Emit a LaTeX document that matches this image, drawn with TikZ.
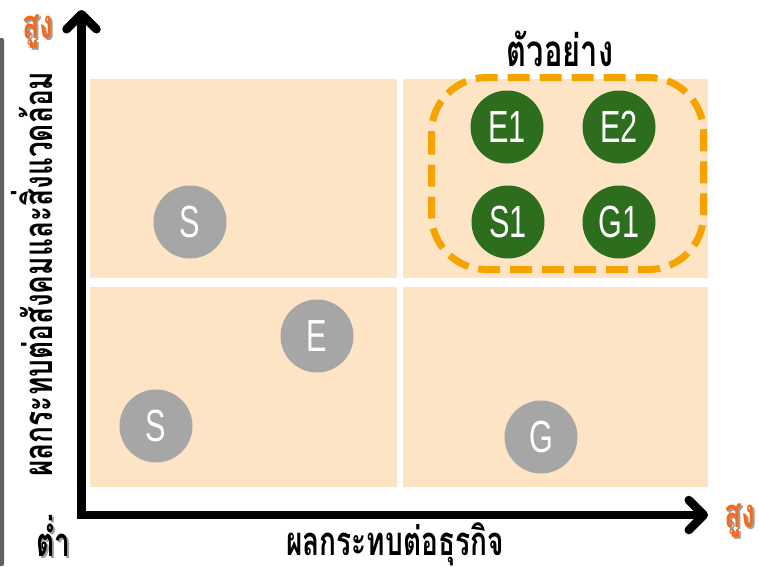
\documentclass[tikz,border=0pt]{standalone}
\usepackage{fontspec}
\setmainfont{Liberation Sans}
\newfontfamily\thai[Script=Thai,FakeStretch=0.7]{Loma}
\newfontfamily\lat[FakeStretch=0.68]{Liberation Sans}
\usetikzlibrary{arrows.meta}
\definecolor{beige}{HTML}{FCE4C4}
\definecolor{dgreen}{HTML}{2D6E1E}
\definecolor{cgray}{HTML}{A6A6A6}
\definecolor{dashor}{HTML}{F5A300}
\definecolor{hiorange}{HTML}{F26B1D}
\definecolor{shadowg}{HTML}{A0A0A0}
\definecolor{barg}{HTML}{606060}
\tikzset{
  quad/.style={fill=beige},
  bubble/.style={circle, minimum size=73pt, inner sep=0pt, text=white,
    font=\lat\fontsize{45}{45}\selectfont},
  greenc/.style={bubble, fill=dgreen},
  grayc/.style={bubble, fill=cgray},
  thaitext/.style={font=\thai\bfseries\fontsize{40}{40}\selectfont, inner sep=0pt, anchor=base},
  axis/.style={line width=8.5pt, line join=miter,
    {Straight Barb[round,length=15pt,width=30pt]}-{Straight Barb[round,length=15pt,width=30pt]}},
  groupbox/.style={draw=dashor, line width=7pt, dash pattern=on 22pt off 10pt, rounded corners=55pt}
}
\begin{document}
\begin{tikzpicture}[x=1pt,y=-1pt]
\useasboundingbox (0,0) rectangle (759,566);
% left bar
\fill[barg, rounded corners=2pt] (-4,566) -- (-4,38) -- (4,38) -- (4,566) -- cycle;
% quadrants
\fill[quad] (90,79) rectangle (397,278);
\fill[quad] (403,79) rectangle (708,278);
\fill[quad] (90,287) rectangle (397,487);
\fill[quad] (403,287) rectangle (708,487);
% group box
\draw[groupbox] (431.5,77.5) rectangle (703.5,269.5);
\node[thaitext, font=\thai\bfseries\fontsize{44}{44}\selectfont] (grp) at (560,66) {ตัวอย่าง};
% green circles
\node[greenc] (e1) at (507,127) {E1};
\node[greenc] (e2) at (619,127) {E2};
\node[greenc] (s1) at (508,222) {S1};
\node[greenc] (g1) at (619,222) {G1};
% gray circles
\node[grayc] (sa) at (190,222) {S};
\node[grayc] (e) at (317,336) {E};
\node[grayc] (sb) at (156,426) {S};
\node[grayc] (g) at (541,437) {G};
% axes
\coordinate (o) at (81.5,515);
\coordinate (ytip) at (81.5,10);
\coordinate (xtip) at (708,515);
\draw[axis] (ytip) -- (o) -- (xtip);
% axis labels
\node[thaitext, rotate=90] (ylab) at (52,274) {ผลกระทบต่อสังคมและสิ่งแวดล้อม};
\node[thaitext] (xlab) at (395,555) {ผลกระทบต่อธุรกิจ};
% high / low labels
\node[thaitext, text=shadowg] at (40,40) {สูง};
\node[thaitext, text=hiorange] (yhi) at (38,38) {สูง};
\node[thaitext, text=shadowg] at (742,529) {สูง};
\node[thaitext, text=hiorange] (xhi) at (740,527) {สูง};
\node[thaitext, text=shadowg] at (55,558) {ต่ำ};
\node[thaitext] (lo) at (53,556) {ต่ำ};
\end{tikzpicture}
\end{document}
